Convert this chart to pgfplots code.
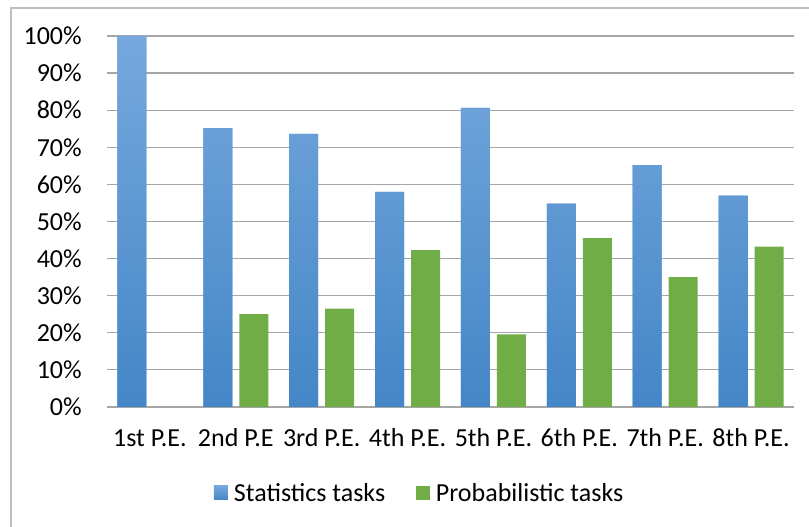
\documentclass[border=0pt]{standalone}
\usepackage{pgfplots}
\pgfplotsset{compat=1.18}
\usepackage{fontspec}
\setmainfont{Carlito}
\definecolor{gridgray}{RGB}{166,166,166}
\definecolor{framegray}{RGB}{190,190,190}
\definecolor{bluetop}{RGB}{118,168,221}
\definecolor{bluebot}{RGB}{68,134,199}
\definecolor{bluemid}{RGB}{91,155,213}
\definecolor{greenbar}{RGB}{112,173,71}
\begin{document}
\begin{tikzpicture}
\useasboundingbox (0,0) rectangle (606.75pt,395.25pt);
\draw[framegray, line width=0.9pt] (8.25pt,0pt) -- (8.25pt,389.25pt) -- (606.75pt,389.25pt);
\begin{axis}[
  at={(80.25pt,90pt)}, anchor=south west,
  scale only axis, width=515.25pt, height=278.25pt,
  ybar=5.25pt, bar width=21.75pt,
  xmin=-0.5, xmax=7.5, ymin=0, ymax=100,
  axis line style={draw=none},
  axis x line*=bottom,
  xtick={0,1,2,3,4,5,6,7},
  xticklabels={1st P.E.,2nd P.E,3rd P.E.,4th P.E.,5th P.E.,6th P.E.,7th P.E.,8th P.E.},
  ytick={0,10,20,30,40,50,60,70,80,90,100},
  yticklabels={0\%,10\%,20\%,30\%,40\%,50\%,60\%,70\%,80\%,90\%,100\%},
  major tick length=0pt,
  ymajorgrids, grid style={gridgray, line width=0.9pt},
  every tick label/.append style={font=\fontsize{19.5}{23}\selectfont, text=black},
  yticklabel style={anchor=east, inner sep=0pt, xshift=-18.75pt},
  xticklabel style={anchor=base, inner sep=0pt, yshift=-30pt},
  /pgf/number format/assume math mode=true,
  legend style={at={(0.4556,-0.2318)}, anchor=center, draw=none, fill=none,
    legend columns=2, font=\fontsize{19.5}{23}\selectfont,
    /tikz/every odd column/.append style={column sep=2.5pt},
    /tikz/every even column/.append style={column sep=21pt}},
  legend image code/.code={\fill[#1] (0pt,-5.25pt) rectangle (10.5pt,5.25pt);},
]
\draw[gridgray, line width=0.9pt] (axis cs:-0.5,0) -- (axis cs:7.5,0);
\addplot[draw=none, top color=bluetop, bottom color=bluebot, fill=bluemid]
  coordinates {(0,100) (1,75.2) (2,73.6) (3,58.0) (4,80.6) (5,54.8) (6,65.2) (7,57.0)};
\addplot[draw=none, fill=greenbar]
  coordinates {(1,25.0) (2,26.5) (3,42.3) (4,19.6) (5,45.5) (6,35.0) (7,43.2)};
\legend{Statistics tasks, Probabilistic tasks}
\end{axis}
\end{tikzpicture}
\end{document}
